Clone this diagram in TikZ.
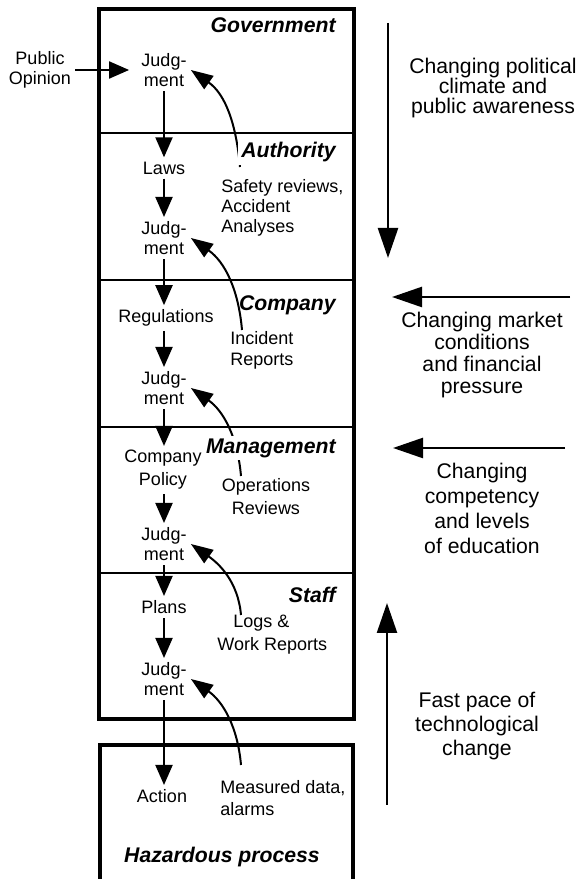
\documentclass[tikz,border=0pt]{standalone}
\usepackage{fontspec}
\setmainfont{Liberation Sans}
\usetikzlibrary{arrows.meta}
\tikzset{
  txt/.style={font=\fontsize{9}{10}\selectfont,align=center,inner sep=2pt},
  rep/.style={font=\fontsize{9}{#1}\selectfont,align=left,inner sep=2pt,anchor=west},
  rep/.default=10.5,
  lay/.style={font=\fontsize{10.6}{12}\selectfont\bfseries\itshape,inner sep=1.5pt,anchor=east},
  mask/.style={fill=white},
  side/.style={font=\fontsize{10.6}{#1}\selectfont,align=center},
  side/.default=10.5,
  flow/.style={line width=1pt,-{Triangle[length=10pt,width=8.5pt]}},
  fb/.style={line width=1pt,-{Triangle[length=11pt,width=8pt]}},
  trend/.style={line width=1.2pt,-{Triangle[length=15pt,width=10pt]}},
}
\begin{document}
\begin{tikzpicture}[x=0.5pt,y=0.5pt]
  \useasboundingbox (0,0) rectangle (579,879);
  \clip (0,0) rectangle (579,879);
  % levels
  \draw[line width=1.8pt] (99,160) rectangle (354,870);
  \foreach \y in {746,599,452,306} \draw[line width=1.2pt] (99,\y) -- (354,\y);
  \draw[line width=1.8pt] (100,-5) -- (100,134) -- (353,134) -- (353,-5);
  % decision chain
  \node[txt] (pub) at (40,809) {Public\\Opinion};
  \node[txt] (j1) at (164,809) {Judg-\\ment};
  \node[txt] (laws) at (164,711) {Laws};
  \node[txt] (j2) at (164,641) {Judg-\\ment};
  \node[txt] (regs) at (166,561) {Regulations};
  \node[txt] (j3) at (164,491) {Judg-\\ment};
  \node[txt,font=\fontsize{9}{11.5}\selectfont] (policy) at (163,409) {Company\\Policy};
  \node[txt] (j4) at (164,335) {Judg-\\ment};
  \node[txt] (plans) at (164,272) {Plans};
  \node[txt] (j5) at (164,200) {Judg-\\ment};
  \node[txt] (act) at (162,83) {Action};
  % feedback
  \node[rep=10] (safe) at (217,671) {Safety reviews,\\Accident\\Analyses};
  \node[rep] (inc) at (226,529) {Incident\\Reports};
  \node[txt,font=\fontsize{9}{11.5}\selectfont] (ops) at (266,382) {Operations\\Reviews};
  \node[rep=11.5] (logs) at (213,244) {\hspace*{8pt}Logs \&\\Work Reports};
  \node[rep=11] (meas) at (216,81) {Measured data,\\alarms};
  \coordinate (c1) at (240,712); \coordinate (c2) at (242,549); \coordinate (c3) at (241,403);
  \coordinate (c4) at (241,264); \coordinate (c5) at (241,114);
  \draw[flow,shorten >=4pt] (pub.east) -- (j1.west);
  \draw[flow] (j1.south) -- (laws.north);
  \draw[flow] (laws.south) -- (j2.north);
  \draw[flow] (j2.south) -- (j2.south |- regs.north);
  \draw[flow] (j3.south |- regs.south) -- (j3.north);
  \draw[flow] (j3.south) -- (j3.south |- policy.north);
  \draw[flow] (j4.north |- policy.south) -- (j4.north);
  \draw[flow] (j4.south) -- (plans.north);
  \draw[flow] (plans.south) -- (j5.north);
  \draw[flow] (j5.south) -- (j5.south |- act.north);
  \foreach \c/\j in {c1/j1,c2/j2,c3/j3,c4/j4,c5/j5}
    \draw[fb] (\c) to[out=95,in=-35] (\j.east);
  % layers
  \node[lay] (gov) at (339,854) {Government};
  \node[lay,mask] (auth) at (339,727) {Authority};
  \node[lay] (comp) at (339,574) {Company};
  \node[lay,mask] (mgmt) at (339,431) {Management};
  \node[lay] (staff) at (339,284) {Staff};
  \node[lay,anchor=center] (haz) at (222,22) {Hazardous process};
  % environment
  \node[side=10] (polit) at (493,791) {Changing political\\climate and\\public awareness};
  \node[side=11] (mkt) at (482,524) {Changing market\\conditions\\and financial\\pressure};
  \node[side=12.5] (edu) at (482,371) {Changing\\competency\\and levels\\of education};
  \node[side=12] (tech) at (477,153) {Fast pace of\\technological\\change};
  \coordinate (d0) at (388,856); \coordinate (d1) at (388,621);
  \coordinate (m0) at (570,582); \coordinate (m1) at (392,582);
  \coordinate (e0) at (565,431); \coordinate (e1) at (393,431);
  \coordinate (t0) at (387,74);  \coordinate (t1) at (387,276);
  \foreach \a/\b in {d0/d1,m0/m1,e0/e1,t0/t1} \draw[trend] (\a) -- (\b);
\end{tikzpicture}
\end{document}
